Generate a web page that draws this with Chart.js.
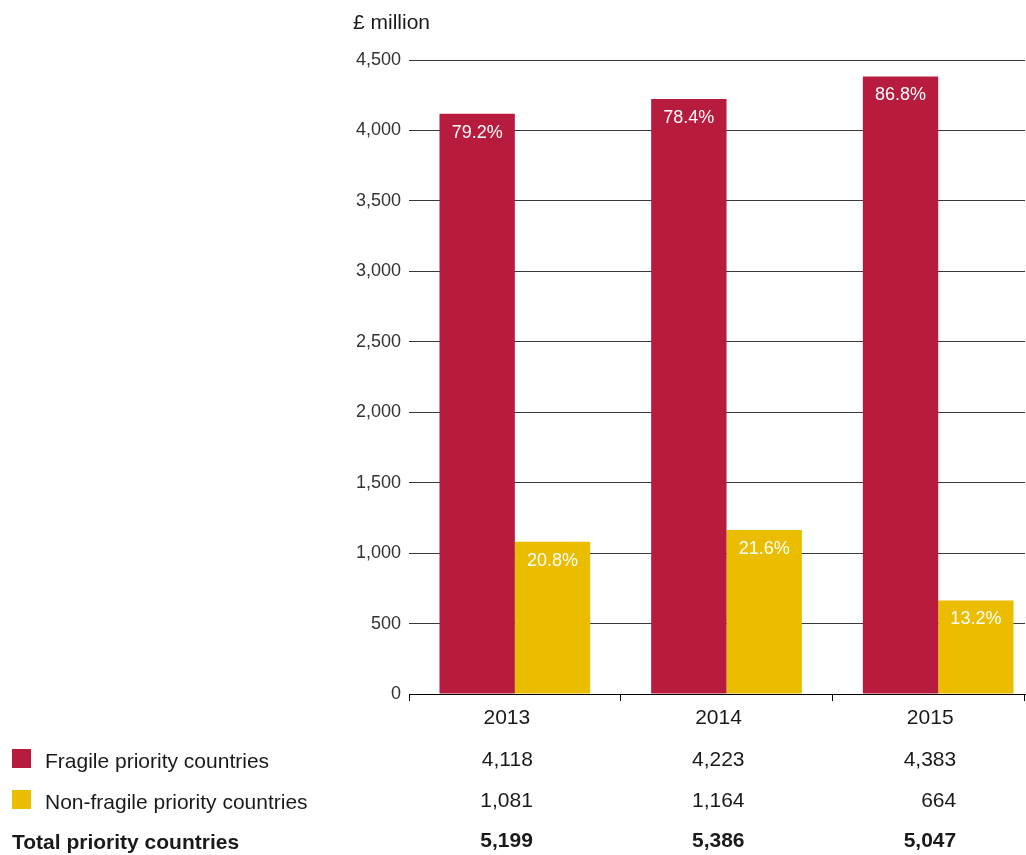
<!DOCTYPE html>
<html>
<head>
<meta charset="utf-8">
<title>Priority countries</title>
<script src="https://cdn.jsdelivr.net/npm/chart.js@4.4.1/dist/chart.umd.min.js"></script>
<style>
  body { margin: 0; background: #fff; }
  #contenedor { position: relative; width: 1026px; height: 855px; }
</style>
</head>
<body>
<div id="contenedor"><canvas id="grafico"></canvas></div>
<script>
let anios = [2013, 2014, 2015];
let fragiles = [4118, 4223, 4383];
let noFragiles = [1081, 1164, 664];
let totales = [5199, 5386, 5047];
let pctFragiles = ['79.2%', '78.4%', '86.8%'];
let pctNoFragiles = ['20.8%', '21.6%', '13.2%'];
let filas = ['Fragile priority countries', 'Non-fragile priority countries', 'Total priority countries'];
let unidad = '£ million';

let colorFragil = '#b71c3e';
let colorNoFragil = '#ebbd00';
let fuente = '"Liberation Sans", Arial, sans-serif';

// porcentaje en blanco dentro de cada barra
const etiquetas = {
  id: 'etiquetas',
  afterDatasetsDraw(chart) {
    let ctx = chart.ctx;
    ctx.save();
    ctx.fillStyle = '#fff';
    ctx.font = '18px ' + fuente;
    ctx.textAlign = 'center';
    ctx.textBaseline = 'middle';
    chart.data.datasets.forEach((ds, i) => {
      chart.getDatasetMeta(i).data.forEach((barra, j) => {
        ctx.fillText(ds.porcentajes[j], barra.x, barra.y + 19);
      });
    });
    ctx.restore();
  }
};

// unidad arriba y tabla de valores debajo del eje
const tabla = {
  id: 'tabla',
  afterDraw(chart) {
    let ctx = chart.ctx;
    let x = chart.scales.x;
    let area = chart.chartArea;
    ctx.save();

    ctx.strokeStyle = '#000';
    ctx.lineWidth = 1;
    ctx.beginPath();
    ctx.moveTo(area.right - 0.5, area.bottom);
    ctx.lineTo(area.right - 0.5, area.bottom + 7);
    ctx.stroke();

    ctx.fillStyle = '#1a1a1a';
    ctx.font = '21px ' + fuente;
    ctx.textAlign = 'left';
    ctx.textBaseline = 'alphabetic';
    ctx.fillText(unidad, area.left - 56, 29);

    let lineas = [768, 809, 849];
    let series = [fragiles, noFragiles, totales];
    let colores = [colorFragil, colorNoFragil, null];
    lineas.forEach((y, f) => {
      ctx.font = (f == 2 ? 'bold ' : '') + '21px ' + fuente;
      if (colores[f]) {
        ctx.fillStyle = colores[f];
        ctx.fillRect(12, y - 19, 19, 19);
      }
      ctx.fillStyle = '#1a1a1a';
      ctx.textAlign = 'left';
      ctx.fillText(filas[f], colores[f] ? 45 : 12, y);
      ctx.textAlign = 'right';
      series[f].forEach((v, j) => {
        ctx.fillText(v.toLocaleString('en-GB'), x.getPixelForValue(anios[j]) + 18, y - 2);
      });
    });
    ctx.restore();
  }
};

new Chart(document.getElementById('grafico'), {
  type: 'bar',
  data: {
    datasets: [
      {
        label: filas[0],
        data: anios.map((a, i) => ({ x: a, y: fragiles[i] })),
        backgroundColor: colorFragil,
        porcentajes: pctFragiles,
      },
      {
        label: filas[1],
        data: anios.map((a, i) => ({ x: a, y: noFragiles[i] })),
        backgroundColor: colorNoFragil,
        porcentajes: pctNoFragiles,
      },
    ],
  },
  options: {
    responsive: true,
    maintainAspectRatio: false,
    animation: false,
    categoryPercentage: 0.712,
    barPercentage: 1,
    layout: { padding: { top: 60, right: 1, left: 0, bottom: 0 } },
    plugins: { legend: { display: false }, tooltip: { enabled: false } },
    scales: {
      x: {
        type: 'linear',
        min: 2012.5,
        max: 2015.41,
        offset: false,
        afterBuildTicks: (s) => { s.ticks = anios.map((a) => ({ value: a })); },
        afterFit: (s) => { s.height = 161; },
        grid: { offset: true, drawOnChartArea: false, tickLength: 7, color: '#000' },
        border: { color: '#000' },
        ticks: {
          callback: (v) => String(v),
          labelOffset: -8,
          padding: 5,
          color: '#1a1a1a',
          font: { family: fuente, size: 21 },
        },
      },
      y: {
        min: 0,
        max: 4500,
        afterFit: (s) => { s.width = 409; },
        ticks: {
          stepSize: 500,
          padding: 8,
          color: '#333',
          font: { family: fuente, size: 18 },
          callback: (v) => v.toLocaleString('en-GB'),
        },
        grid: { color: '#3a3a3a', drawTicks: false },
        border: { display: false },
      },
    },
  },
  plugins: [etiquetas, tabla],
});
</script>
</body>
</html>
